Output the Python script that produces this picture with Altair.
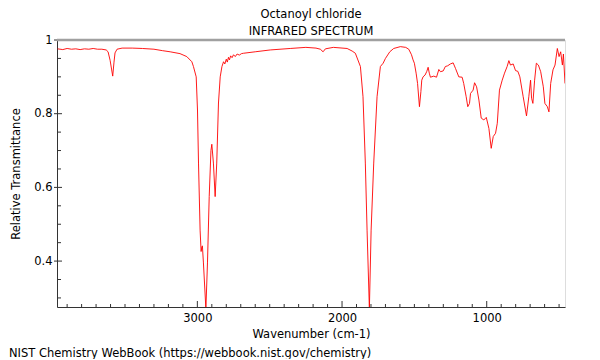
import altair as alt
import pandas as pd

# ---- data ----
wavenumber = [
    3966, 3930, 3900, 3870, 3840, 3810, 3780, 3750, 3720, 3690, 3660, 3630,
    3617, 3603, 3585, 3576, 3569, 3555, 3520, 3450, 3380, 3300, 3240, 3188,
    3120, 3073, 3038, 3027, 3008, 2999, 2992, 2981, 2974, 2968, 2965, 2958,
    2941, 2930, 2918, 2906, 2900, 2889, 2877, 2866, 2854, 2842, 2830, 2819,
    2810, 2800, 2793, 2785, 2778, 2770, 2760, 2750, 2738, 2725, 2710, 2695,
    2681, 2600, 2496, 2358, 2250, 2180, 2150, 2131, 2115, 2060, 1965, 1930,
    1908, 1873, 1855, 1839, 1827, 1811, 1799, 1781, 1758, 1735, 1716, 1700,
    1670, 1643, 1597, 1560, 1539, 1520, 1509, 1500, 1488, 1478, 1465, 1455,
    1449, 1440, 1426, 1414, 1405, 1397, 1389, 1366, 1347, 1331, 1320, 1301,
    1286, 1270, 1251, 1232, 1216, 1193, 1170, 1159, 1142, 1131, 1119, 1112,
    1094, 1084, 1070, 1054, 1038, 1020, 1003, 985, 969, 955, 939, 927,
    912, 893, 877, 859, 847, 836, 817, 801, 785, 771, 748, 725,
    709, 697, 690, 681, 669, 657, 643, 627, 609, 598, 581, 570,
    558, 542, 528, 512, 500, 489, 477, 470, 459,
]
transmittance = [
    0.976, 0.974, 0.977, 0.975, 0.976, 0.974, 0.976, 0.975, 0.977, 0.975, 0.975, 0.973,
    0.968, 0.945, 0.902, 0.940, 0.965, 0.975, 0.978, 0.978, 0.977, 0.975, 0.971, 0.968,
    0.963, 0.955, 0.941, 0.928, 0.900, 0.810, 0.666, 0.484, 0.426, 0.440, 0.441, 0.395,
    0.270, 0.395, 0.575, 0.700, 0.717, 0.666, 0.575, 0.666, 0.829, 0.900, 0.928, 0.941,
    0.935, 0.948, 0.940, 0.953, 0.946, 0.957, 0.952, 0.960, 0.955, 0.962, 0.959, 0.963,
    0.964, 0.968, 0.973, 0.977, 0.980, 0.978, 0.975, 0.968, 0.976, 0.980, 0.977, 0.970,
    0.964, 0.928, 0.846, 0.666, 0.484, 0.270, 0.484, 0.666, 0.846, 0.928, 0.937, 0.950,
    0.968, 0.977, 0.982, 0.980, 0.975, 0.960, 0.946, 0.937, 0.910, 0.882, 0.819, 0.860,
    0.891, 0.900, 0.905, 0.915, 0.926, 0.910, 0.899, 0.902, 0.899, 0.920, 0.914, 0.916,
    0.928, 0.930, 0.935, 0.938, 0.923, 0.900, 0.899, 0.882, 0.846, 0.819, 0.828, 0.855,
    0.864, 0.884, 0.873, 0.837, 0.788, 0.783, 0.790, 0.760, 0.706, 0.738, 0.747, 0.774,
    0.864, 0.891, 0.910, 0.928, 0.944, 0.932, 0.935, 0.917, 0.915, 0.900, 0.846, 0.794,
    0.846, 0.891, 0.842, 0.828, 0.891, 0.937, 0.932, 0.914, 0.873, 0.828, 0.819, 0.805,
    0.882, 0.919, 0.932, 0.977, 0.955, 0.968, 0.932, 0.962, 0.882,
]

x_major = [3000, 2000, 1000]
x_minor = [3900, 3800, 3700, 3600, 3500, 3400, 3300, 3200, 3100,
           2900, 2800, 2700, 2600, 2500, 2400, 2300, 2200, 2100,
           1900, 1800, 1700, 1600, 1500, 1400, 1300, 1200, 1100,
           900, 800, 700, 600, 500]
y_major = [1.0, 0.8, 0.6, 0.4]
y_minor = [0.95, 0.9, 0.85, 0.75, 0.7, 0.65, 0.55, 0.5, 0.45, 0.35, 0.3]

title_lines = ["Octanoyl chloride", "INFRARED SPECTRUM"]
x_title = "Wavenumber (cm-1)"
y_title = "Relative Transmittance"
footer = "NIST Chemistry WebBook (https://webbook.nist.gov/chemistry)"

FONT = "DejaVu Sans"
FS = 11.5
W, H = 508, 267
AX = "#333333"

xs = alt.Scale(domain=[459, 3970], reverse=True, nice=False, zero=False)
ys = alt.Scale(domain=[0.2754, 1.0], nice=False, zero=False)

x_axis = alt.Axis(
    values=x_major, format="d", title=x_title, ticks=False, grid=False,
    labelFontSize=FS, labelFont=FONT, labelColor="black", labelPadding=5,
    titleFontSize=FS, titleFont=FONT, titleFontWeight="normal", titleColor="black",
    titlePadding=5, domainColor=AX, labelFlush=False)
y_axis = alt.Axis(
    values=y_major, format="~g", title=y_title, ticks=False, grid=False,
    labelFontSize=FS, labelFont=FONT, labelColor="black", labelPadding=5,
    titleFontSize=FS, titleFont=FONT, titleFontWeight="normal", titleColor="black",
    titlePadding=12, domainColor=AX, labelFlush=False)

df = pd.DataFrame({"wn": wavenumber, "t": transmittance})

line = alt.Chart(df).mark_line(color="#ff0000", strokeWidth=0.9, clip=True).encode(
    x=alt.X("wn:Q", scale=xs, axis=x_axis),
    y=alt.Y("t:Q", scale=ys, axis=y_axis),
)

xmin_df = pd.DataFrame({"wn": x_minor})
xmaj_df = pd.DataFrame({"wn": x_major})
ymin_df = pd.DataFrame({"t": y_minor})
ymaj_df = pd.DataFrame({"t": y_major})

xminor = alt.Chart(xmin_df).mark_rule(color=AX, strokeWidth=1).encode(
    x=alt.X("wn:Q", scale=xs, axis=x_axis), y=alt.value(H), y2=alt.value(H - 3))
xmajor = alt.Chart(xmaj_df).mark_rule(color=AX, strokeWidth=1).encode(
    x=alt.X("wn:Q", scale=xs, axis=x_axis), y=alt.value(H), y2=alt.value(H - 6))
yminor = alt.Chart(ymin_df).mark_rule(color=AX, strokeWidth=1).encode(
    y=alt.Y("t:Q", scale=ys, axis=y_axis), x=alt.value(0), x2=alt.value(4))
ymajor = alt.Chart(ymaj_df).mark_rule(color=AX, strokeWidth=1).encode(
    y=alt.Y("t:Q", scale=ys, axis=y_axis), x=alt.value(-3), x2=alt.value(5))

top_border = alt.Chart(pd.DataFrame({"a": [0]})).mark_rule(color="#a0a0a0", strokeWidth=2.5).encode(
    x=alt.value(0), x2=alt.value(W), y=alt.value(0))

foot = alt.Chart(pd.DataFrame({"f": [footer]})).mark_text(
    align="left", baseline="alphabetic", fontSize=FS, font=FONT, color="black").encode(
    x=alt.value(-48), y=alt.value(317), text="f:N")

chart = alt.layer(line, xminor, xmajor, yminor, ymajor, top_border, foot).properties(
    width=W, height=H,
    title=alt.TitleParams(title_lines, fontSize=FS, fontWeight="normal", font=FONT,
                          anchor="middle", color="black", offset=1, dy=4, lineHeight=16.5),
    autosize=alt.AutoSizeParams(type="none"),
    padding={"left": 49, "top": 32, "right": 27, "bottom": 52},
).configure_view(stroke=AX, strokeWidth=1).configure(background="white")

chart.save("out.html", embed_options={"renderer": "svg", "actions": False})
